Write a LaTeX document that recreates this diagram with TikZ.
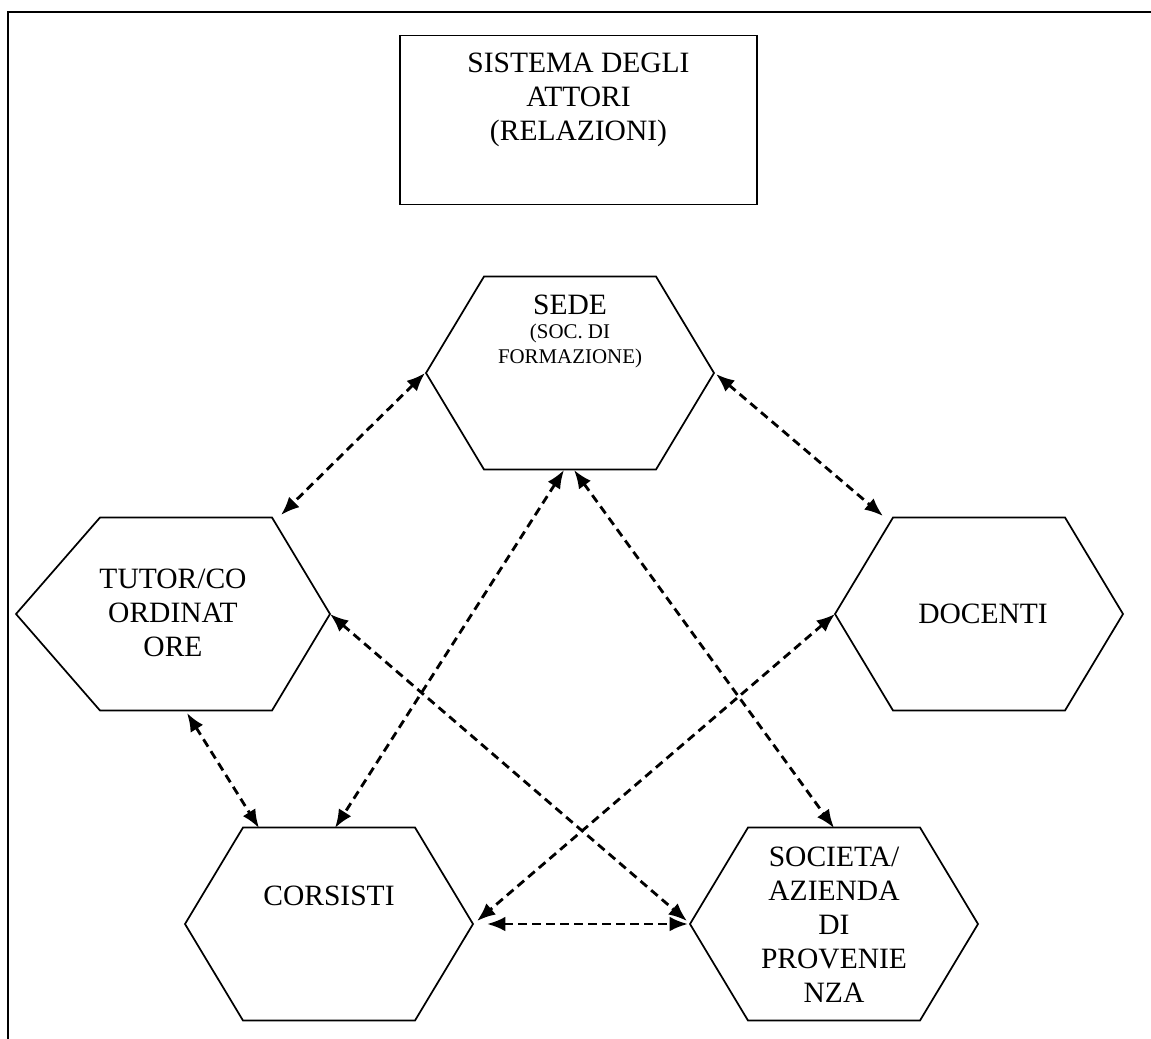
\documentclass[tikz,border=0pt]{standalone}
\usepackage{fontspec}
\setmainfont{Liberation Serif}
\usetikzlibrary{arrows.meta}
% #1 name, #2 cx, #3 cy, #4 left offset, #5 right offset
\newcommand\hexshape[5]{%
  \coordinate (#1-l)  at ({#2-86-#4},{#3});
  \coordinate (#1-tl) at ({#2-86},{#3-96.5});
  \coordinate (#1-tr) at ({#2+86},{#3-96.5});
  \coordinate (#1-r)  at ({#2+86+#5},{#3});
  \coordinate (#1-br) at ({#2+86},{#3+96.5});
  \coordinate (#1-bl) at ({#2-86},{#3+96.5});
  \draw[hexline] (#1-l) -- (#1-tl) -- (#1-tr) -- (#1-r) -- (#1-br) -- (#1-bl) -- cycle;
}
\begin{document}
\begin{tikzpicture}[x=0.4066pt,y=-0.4066pt,
  hexline/.style={line width=0.7pt, line join=miter},
  frameline/.style={line width=1pt},
  link/.style={line width=1.15pt, dash pattern=on 3.5pt off 2.2pt,
    {Latex[length=7.5pt,width=6pt]}-{Latex[length=7.5pt,width=6pt]}},
  lbl/.style={align=center, font=\fontsize{12}{13.8}\selectfont, inner sep=0pt},
  sublbl/.style={align=center, font=\fontsize{8.5}{9.8}\selectfont, inner sep=0pt},
]
\useasboundingbox (0,0) rectangle (1151,1039);
\fill[white] (0,0) rectangle (1151,1039);
% outer frame (open at right and bottom)
\draw[frameline] (8,1039) -- (8,12) -- (1151,12);
% title box
\node[draw, line width=0.7pt, minimum width=145.2pt, minimum height=68.7pt, inner sep=0pt] (titlebox) at (578.5,120) {};
\node[lbl] (title) at (578.5,100) {SISTEMA DEGLI\\ATTORI\\(RELAZIONI)};
% hexagons
\hexshape{sede}{570}{373}{58}{58}
\hexshape{tutor}{186}{614}{84}{58}
\hexshape{doc}{979}{614}{58}{58}
\hexshape{cors}{329}{924}{58}{58}
\hexshape{soc}{834}{924}{58}{58}
% labels
\node[lbl] (sede) at (570,305) {SEDE};
\node[sublbl] (sedesub) at (570,346) {(SOC. DI\\FORMAZIONE)};
\node[lbl] (tutor) at (173,613) {TUTOR/CO\\ORDINAT\\ORE};
\node[lbl] (doc) at (983,614) {DOCENTI};
\node[lbl] (cors) at (329,896) {CORSISTI};
\node[lbl] (soc) at (834,925) {SOCIETA/\\AZIENDA\\DI\\PROVENIE\\NZA};
% connector end points
\coordinate (s-l) at (425,373);
\coordinate (s-r) at (716,374);
\coordinate (s-b1) at (564,470);
\coordinate (s-b2) at (574,470);
\coordinate (t-top) at (281,515);
\coordinate (t-r) at (330,614);
\coordinate (t-b) at (187,713);
\coordinate (d-top) at (883,516);
\coordinate (d-l) at (835,614);
\coordinate (c-t1) at (259,828);
\coordinate (c-t2) at (335,828);
\coordinate (c-r1) at (477,921);
\coordinate (c-r2) at (487,924);
\coordinate (so-t) at (834,828);
\coordinate (so-l1) at (687,921);
\coordinate (so-l2) at (688,924);
% connectors
\draw[link] (s-l) -- (t-top);
\draw[link] (s-r) -- (d-top);
\draw[link] (s-b1) -- (c-t2);
\draw[link] (s-b2) -- (so-t);
\draw[link] (t-r) -- (so-l1);
\draw[link] (d-l) -- (c-r1);
\draw[link] (t-b) -- (c-t1);
\draw[link] (c-r2) -- (so-l2);
\end{tikzpicture}
\end{document}
